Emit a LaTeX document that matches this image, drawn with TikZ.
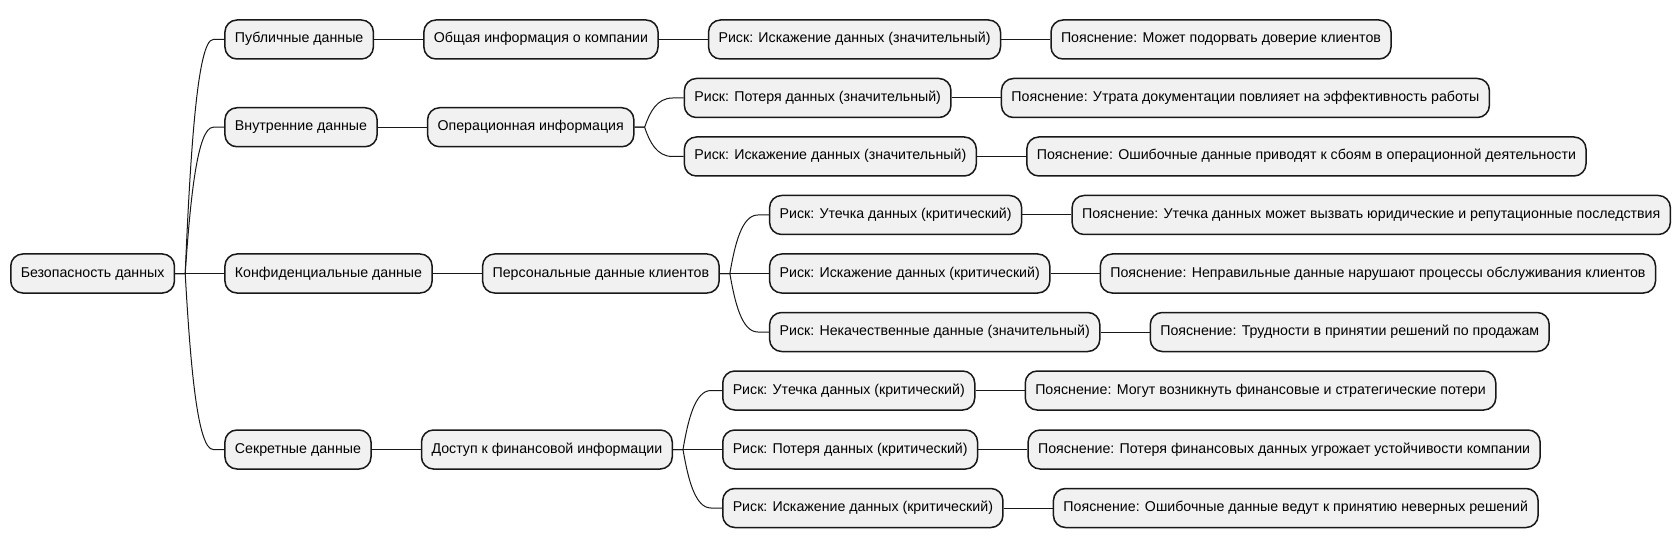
\documentclass[tikz,border=0pt]{standalone}
\usepackage{fontspec}
\setmainfont{Liberation Sans}
\definecolor{bd}{HTML}{181818}
\definecolor{bg}{HTML}{F1F1F1}
\tikzset{
  mm/.style={draw=bd, fill=bg, line width=1.5pt, rounded corners=12pt,
    minimum height=39pt, inner xsep=10pt, inner ysep=0pt,
    text height=10pt, text depth=3pt,
    font=\fontsize{14.2pt}{16pt}\selectfont, anchor=west},
  conn/.style={draw=bd, line width=1pt}
}
\newcommand\mmchild[4]{%
  \coordinate (tx#2) at ([xshift=49pt]#1.east);
  \coordinate (ty#2) at (0,#3);
  \node[mm] (#2) at (tx#2 |- ty#2) {#4};}
\newcommand\mmfork[3]{%
  \draw[conn] (#1.east) -- ++(10,0) .. controls +(5,#3) and +(-16,0) .. ([xshift=-11pt]#2.west) -- (#2.west);}
\newcommand\mmline[2]{\draw[conn] (#1.east) -- (#2.west);}
\begin{document}
\begin{tikzpicture}[x=1pt,y=-1pt]
\useasboundingbox (0,0) rectangle (1679,548);
\node[mm] (r) at (10,273.5) {Безопасность данных};
% level 1
\mmchild{r}{a1}{39.5}{Публичные данные}
\mmchild{r}{a2}{127.25}{Внутренние данные}
\mmchild{r}{a3}{273.5}{Конфиденциальные данные}
\mmchild{r}{a4}{449.5}{Секретные данные}
% level 2
\mmchild{a1}{b1}{39.5}{Общая информация о компании}
\mmchild{a2}{b2}{127.25}{Операционная информация}
\mmchild{a3}{b3}{273.5}{Персональные данные клиентов}
\mmchild{a4}{b4}{449.5}{Доступ к финансовой информации}
% level 3
\mmchild{b1}{c1}{39.5}{Риск: Искажение данных (значительный)}
\mmchild{b2}{c2}{98}{Риск: Потеря данных (значительный)}
\mmchild{b2}{c3}{156.5}{Риск: Искажение данных (значительный)}
\mmchild{b3}{c4}{215}{Риск: Утечка данных (критический)}
\mmchild{b3}{c5}{273.5}{Риск: Искажение данных (критический)}
\mmchild{b3}{c6}{332}{Риск: Некачественные данные (значительный)}
\mmchild{b4}{c7}{390.5}{Риск: Утечка данных (критический)}
\mmchild{b4}{c8}{449.5}{Риск: Потеря данных (критический)}
\mmchild{b4}{c9}{508}{Риск: Искажение данных (критический)}
% level 4
\mmchild{c1}{d1}{39.5}{Пояснение: Может подорвать доверие клиентов}
\mmchild{c2}{d2}{98}{Пояснение: Утрата документации повлияет на эффективность работы}
\mmchild{c3}{d3}{156.5}{Пояснение: Ошибочные данные приводят к сбоям в операционной деятельности}
\mmchild{c4}{d4}{215}{Пояснение: Утечка данных может вызвать юридические и репутационные последствия}
\mmchild{c5}{d5}{273.5}{Пояснение: Неправильные данные нарушают процессы обслуживания клиентов}
\mmchild{c6}{d6}{332}{Пояснение: Трудности в принятии решений по продажам}
\mmchild{c7}{d7}{390.5}{Пояснение: Могут возникнуть финансовые и стратегические потери}
\mmchild{c8}{d8}{449.5}{Пояснение: Потеря финансовых данных угрожает устойчивости компании}
\mmchild{c9}{d9}{508}{Пояснение: Ошибочные данные ведут к принятию неверных решений}
% connectors
\mmfork{r}{a1}{-117}
\mmfork{r}{a2}{-73}
\mmfork{r}{a3}{0}
\mmfork{r}{a4}{88}
\mmline{a1}{b1}
\mmline{a2}{b2}
\mmline{a3}{b3}
\mmline{a4}{b4}
\mmline{b1}{c1}
\mmfork{b2}{c2}{-14.6}
\mmfork{b2}{c3}{14.6}
\mmfork{b3}{c4}{-29.25}
\mmfork{b3}{c5}{0}
\mmfork{b3}{c6}{29.25}
\mmfork{b4}{c7}{-29.5}
\mmfork{b4}{c8}{0}
\mmfork{b4}{c9}{29.25}
\mmline{c1}{d1}
\mmline{c2}{d2}
\mmline{c3}{d3}
\mmline{c4}{d4}
\mmline{c5}{d5}
\mmline{c6}{d6}
\mmline{c7}{d7}
\mmline{c8}{d8}
\mmline{c9}{d9}
\end{tikzpicture}
\end{document}
